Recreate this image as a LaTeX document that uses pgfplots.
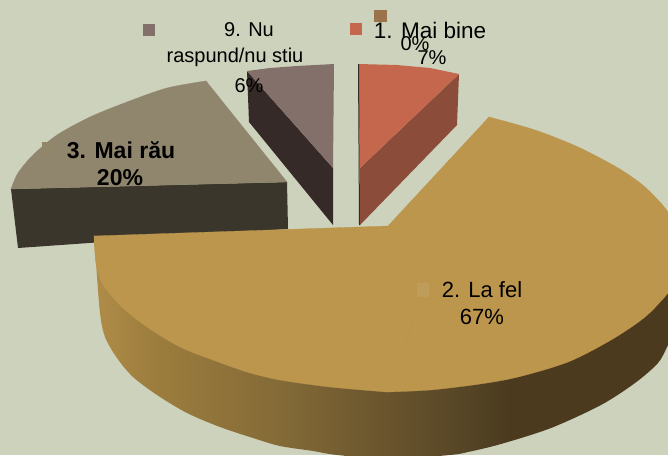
\documentclass[border=0pt]{standalone}
\usepackage{fontspec}
\setmainfont{Liberation Sans}
\usepackage{pgfplots}
\pgfplotsset{compat=1.18}
\definecolor{bg}{HTML}{CDD2BC}
\definecolor{goldtop}{HTML}{BC964D}
\definecolor{gA}{RGB}{176,140,72}
\definecolor{gB}{RGB}{157,126,62}
\definecolor{gC}{RGB}{132,106,55}
\definecolor{gD}{RGB}{105,84,45}
\definecolor{gE}{RGB}{82,66,36}
\definecolor{gF}{RGB}{75,58,30}
\definecolor{redtop}{HTML}{C4674D}
\definecolor{redside}{HTML}{8B4D3A}
\definecolor{mautop}{HTML}{84706A}
\definecolor{mauside}{HTML}{352A28}
\definecolor{tantop}{HTML}{8F866D}
\definecolor{tanside}{HTML}{3A362B}
\definecolor{legbrown}{HTML}{9A734A}
\pgfdeclarehorizontalshading{goldside}{100bp}{color(0bp)=(gA); color(25bp)=(gA); color(29.7bp)=(gB); color(40.6bp)=(gC); color(49.6bp)=(gD); color(57.4bp)=(gE); color(59.9bp)=(gF); color(100bp)=(gF)}
\newcommand{\lab}[1]{\fontsize{#1}{#1}\selectfont}
\begin{document}
\begin{tikzpicture}
\begin{axis}[scale only axis,width=668pt,height=455pt,xmin=0,xmax=668,ymin=0,ymax=455,y dir=reverse,hide axis]
% background
\addplot[fill=bg,draw=none] coordinates {(0,0)(668,0)(668,455)(0,455)} -- cycle;
% 3. Mai rau
\addplot[fill=tanside,draw=none] coordinates {(11,189)(287,182)(288,229)(18,248)} -- cycle;
\addplot[fill=tantop,draw=tantop,line width=.3pt,smooth] coordinates {(206,81)(167,88)(127,102)(90,117)(57,135)(33,155)(18,173)(11,189)} -- cycle;
\addplot[fill=tantop,draw=tantop,line width=.3pt] coordinates {(206,81)(11,189)(287,182)} -- cycle;
\addplot[fill=tantop!92!gA,draw=none] coordinates {(42,142)(53,142)(53,155)(42,155)} -- cycle;
% 9. Nu raspund
\addplot[fill=mauside,draw=none] coordinates {(247,71)(249,122)(333,225)(333,168)} -- cycle;
\addplot[fill=mautop,draw=none] coordinates {(334,64)(297,66)(270,68)(247,71)(333,168)} -- cycle;
% 1. Mai bine
\addplot[fill=redside,draw=none] coordinates {(360,168)(459,74)(457,125)(360,225)} -- cycle;
\addplot[fill=redtop,draw=none] coordinates {(358,64)(397,65)(430,68)(459,74)(360,168)} -- cycle;
\addplot[fill=mauside,draw=none] coordinates {(358,64)(359,64)(360,225)(359,225)} -- cycle;
% 2. La fel: side
\addplot[shading=goldside,shading angle=0,draw=none,smooth] coordinates {(94,236)(96,263)(100,313)(105,337)(117,358)(133,377)(157,395)(187,413)(220,427)(253,438)(280,446)(313,451)(337,455)(390,459)(450,455)(468,452)(501,444)(551,428)(601,405)(635,383)(658,363)(668,345)(680,320)(690,290)} -- cycle;
% 2. La fel: top
\addplot[fill=goldtop,draw=goldtop,line width=.3pt,smooth] coordinates {(489,117)(535,130)(578,147)(618,168)(645,187)(668,212)(682,240)(684,258)(680,275)(668,293)(645,317)(611,340)(568,362)(518,377)(480,384)(430,390)(387,392)} -- cycle;
\addplot[fill=goldtop,draw=goldtop,line width=.3pt,smooth] coordinates {(387,392)(330,387)(280,380)(247,372)(213,360)(180,347)(147,327)(123,308)(103,285)(96,263)(94,236)} -- cycle;
\addplot[fill=goldtop,draw=goldtop,line width=.3pt] coordinates {(489,117)(387,392)(94,236)(388,226)} -- cycle;
\addplot[fill=goldtop!88!bg,draw=none] coordinates {(417,283)(429,283)(429,297)(417,297)} -- cycle;
% legend keys
\addplot[fill=mautop,draw=none] coordinates {(143,24)(155,24)(155,36)(143,36)} -- cycle;
\addplot[fill=redtop,draw=none] coordinates {(350,23)(362,23)(362,35)(350,35)} -- cycle;
\addplot[fill=legbrown,draw=none] coordinates {(374,10)(387,10)(387,22)(374,22)} -- cycle;
% labels
\node[inner sep=0,text=black] at (axis cs:249,30) {\lab{20}9. Nu};
\node[inner sep=0,text=black] at (axis cs:235,57) {\lab{20}raspund/nu stiu};
\node[inner sep=0,text=black] at (axis cs:249,86) {\lab{20}6\%};
\node[inner sep=0,text=black] at (axis cs:430,30) {\lab{22.5}1. Mai bine};
\node[inner sep=0,text=black] at (axis cs:415,44) {\lab{20}0\%};
\node[inner sep=0,text=black] at (axis cs:432,58) {\lab{20}7\%};
\node[inner sep=0,text=black] at (axis cs:121,150) {\lab{23}\bfseries 3. Mai rău};
\node[inner sep=0,text=black] at (axis cs:120,178) {\lab{23}\bfseries 20\%};
\node[inner sep=0,text=black] at (axis cs:482,290) {\lab{22}2. La fel};
\node[inner sep=0,text=black] at (axis cs:482,317) {\lab{22}67\%};
\end{axis}
\end{tikzpicture}
\end{document}
